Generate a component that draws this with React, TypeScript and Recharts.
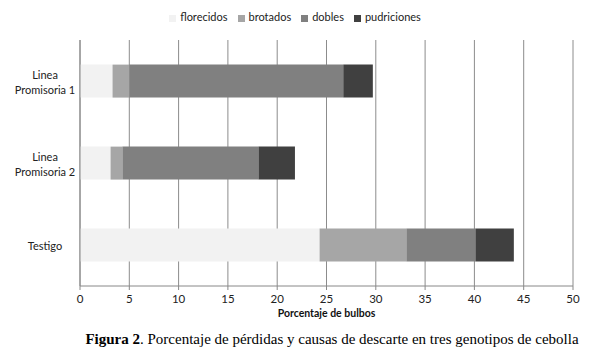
import React from "react";
import { BarChart, Bar, XAxis, YAxis, CartesianGrid, Legend } from "recharts";

const categories = ["Linea\nPromisoria 1", "Linea\nPromisoria 2", "Testigo"];
const florecidos = [3.3, 3.1, 24.3];
const brotados = [1.7, 1.2, 8.8];
const dobles = [21.7, 13.8, 7.0];
const pudriciones = [3.0, 3.7, 3.9];
const xTicks = [0, 5, 10, 15, 20, 25, 30, 35, 40, 45, 50];

const series = [
  { key: "florecidos", color: "#f2f2f2" },
  { key: "brotados", color: "#a6a6a6" },
  { key: "dobles", color: "#808080" },
  { key: "pudriciones", color: "#404040" },
];

const data = categories.map((c, i) => ({
  name: c,
  florecidos: florecidos[i],
  brotados: brotados[i],
  dobles: dobles[i],
  pudriciones: pudriciones[i],
}));

const FONT = "Lato, 'Open Sans', sans-serif";

function CatTick(props: any) {
  const { y, payload } = props;
  const lines = String(payload.value).split("\n");
  const lh = 15;
  const y0 = y - ((lines.length - 1) * lh) / 2;
  return (
    <text x={45} y={y0} textAnchor="middle" fontFamily={FONT} fontSize={11} fill="#222" dominantBaseline="central">
      {lines.map((l, i) => (
        <tspan key={i} x={45} y={y0 + i * lh} dominantBaseline="central">{l}</tspan>
      ))}
    </text>
  );
}

export default function App() {
  return (
    <div style={{ position: "fixed", left: 0, top: 0, width: 600, height: 354, background: "#fff" }}>
      <BarChart
        width={600}
        height={328}
        data={data}
        layout="vertical"
        barCategoryGap="30%"
        margin={{ top: 21, right: 27, left: 0, bottom: 0 }}
      >
        <CartesianGrid horizontal={false} stroke="#8c8c8c" strokeWidth={1} />
        <XAxis
          type="number"
          domain={[0, 50]}
          ticks={xTicks}
          interval={0}
          stroke="#888"
          tick={{ fontFamily: FONT, fontSize: 11.5, fill: "#222" }}
          tickSize={4}
          tickMargin={5}
          height={42}
          label={{ value: "Porcentaje de bulbos", position: "insideBottom", offset: 11, fontFamily: FONT, fontSize: 10.5, fontWeight: 700, fill: "#111" }}
        />
        <YAxis
          type="category"
          dataKey="name"
          width={80}
          stroke="#888"
          tickLine={false}
          tick={<CatTick />}
        />
        <Legend
          verticalAlign="top"
          align="center"
          iconType="square"
          iconSize={7}
          itemSorter={null as any}
          wrapperStyle={{ fontFamily: FONT, fontSize: 11, color: "#222", top: 10, left: 0, width: 600, paddingBottom: 6 }}
          formatter={(v: any) => <span style={{ color: "#222" }}>{v}</span>}
        />
        {series.map((s) => (
          <Bar key={s.key} dataKey={s.key} stackId="a" fill={s.color} isAnimationActive={false} />
        ))}
      </BarChart>
      <div
        style={{
          position: "absolute",
          top: 331,
          left: 0,
          width: 600,
          paddingLeft: 64,
          boxSizing: "border-box",
          textAlign: "center",
          fontFamily: "'Liberation Serif', 'Times New Roman', serif",
          fontSize: 15,
          color: "#000",
          whiteSpace: "nowrap",
        }}
      >
        <b>Figura 2</b>. Porcentaje de pérdidas y causas de descarte en tres genotipos de cebolla
      </div>
    </div>
  );
}
